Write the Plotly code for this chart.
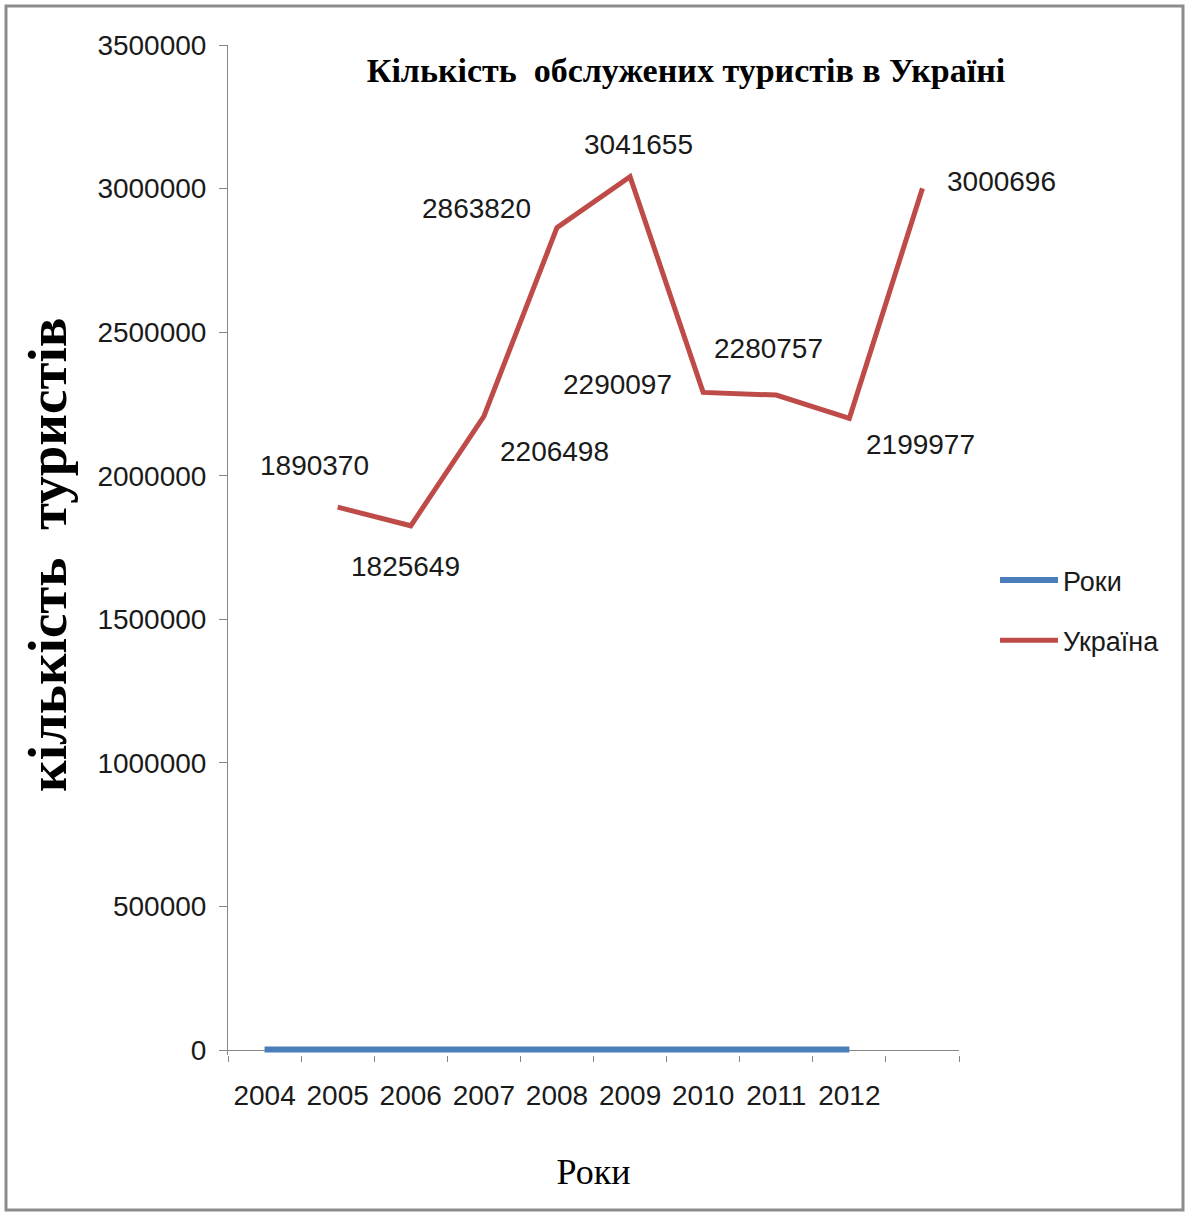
import plotly.graph_objects as go

# Category axis: nine labelled years plus one trailing, unlabelled slot
years = ["2004", "2005", "2006", "2007", "2008", "2009", "2010", "2011", "2012"]
categories = years + [" "]

# Series "Роки" holds the year numbers themselves
roky_values = [2004, 2005, 2006, 2007, 2008, 2009, 2010, 2011, 2012]

# Series "Україна": number of tourists served (shifted one slot to the right)
ukraine_values = [1890370, 1825649, 2206498, 2863820, 3041655,
                  2290097, 2280757, 2199977, 3000696]

y_tick_values = [0, 500000, 1000000, 1500000, 2000000, 2500000, 3000000, 3500000]

# Pixel offsets of each value label from its point (x, y; y up)
label_offsets = [(-23, 42), (-5, -41), (71, -35), (-80, 19), (8, 32),
                 (-86, 8), (-8, 47), (71, -26), (79, 7)]

W, H = 1190, 1213
L, R, T, B = 228, 231, 45, 158
plot_w = W - L - R
plot_h = H - T - B
Y_TOP = 3500000
# a few pixels of room below zero so the thick line on zero is not clipped
Y_BOTTOM = -Y_TOP * 5 / 1005

BLUE = "#4A7EBB"
RED = "#BE4B48"
AXIS = "#868686"
TICK_FONT = dict(family="Liberation Sans, Arial, sans-serif", size=28, color="#1a1a1a")
SERIF = "Liberation Serif, Times New Roman, serif"

fig = go.Figure()

fig.add_trace(go.Scatter(
    x=categories[:len(roky_values)], y=roky_values, mode="lines", name="Роки",
    line=dict(color=BLUE, width=6), legendgroup="a",
))
fig.add_trace(go.Scatter(
    x=categories[1:1 + len(ukraine_values)], y=ukraine_values, mode="lines", name="Україна",
    line=dict(color=RED, width=5), legendgroup="b",
))

# Value labels placed around the red line (x given as category index)
for i, (val, (dx, dy)) in enumerate(zip(ukraine_values, label_offsets)):
    fig.add_annotation(x=i + 1, y=val, text=str(val), showarrow=False,
                       xshift=dx, yshift=dy, font=TICK_FONT)


def px_x(p):
    return (p - L) / plot_w


def px_y(p):
    return (H - B - p) / plot_h


# Vertical axis title
fig.add_annotation(xref="paper", yref="paper", x=px_x(47), y=px_y(555),
                   text="<b>кількість  туристів</b>", textangle=-90, showarrow=False,
                   xanchor="center", yanchor="middle",
                   font=dict(family=SERIF, size=55, color="black"))

# Outer chart frame
fig.add_shape(type="rect", xref="paper", yref="paper",
              x0=px_x(6), x1=px_x(1183), y0=px_y(1210), y1=px_y(6),
              line=dict(color="#8c8c8c", width=3), layer="below")

fig.update_layout(
    width=W, height=H,
    margin=dict(l=L, r=R, t=T, b=B),
    paper_bgcolor="white", plot_bgcolor="white",
    title=dict(
        text="<b>Кількість  обслужених туристів в Україні</b>",
        font=dict(family=SERIF, size=34, color="black"),
        x=686 / W, xanchor="center", y=1 - 70 / H, yanchor="middle",
    ),
    xaxis=dict(
        type="category", categoryorder="array", categoryarray=categories,
        range=[-0.5, len(categories) - 0.5],
        tickson="boundaries", ticks="outside", ticklen=6, tickcolor=AXIS, tickwidth=1,
        showline=False, showgrid=False, zeroline=False,
        tickfont=TICK_FONT, ticklabelstandoff=21,
        title=dict(text="Роки", standoff=48,
                   font=dict(family=SERIF, size=36, color="black")),
    ),
    yaxis=dict(
        range=[Y_BOTTOM, Y_TOP], tickvals=y_tick_values,
        ticktext=[str(v) for v in y_tick_values],
        ticks="outside", ticklen=8, tickcolor=AXIS, tickwidth=1,
        showline=True, linecolor=AXIS, linewidth=1, showgrid=False,
        zeroline=True, zerolinecolor=AXIS, zerolinewidth=1,
        tickfont=TICK_FONT, ticklabelstandoff=7,
    ),
    legend=dict(
        x=px_x(995), y=px_y(556), xanchor="left", yanchor="top",
        font=dict(family="Liberation Sans, Arial, sans-serif", size=27, color="#1a1a1a"),
        tracegroupgap=22, bgcolor="rgba(0,0,0,0)", itemwidth=58,
    ),
    showlegend=True,
)

fig.write_html("out.html")
